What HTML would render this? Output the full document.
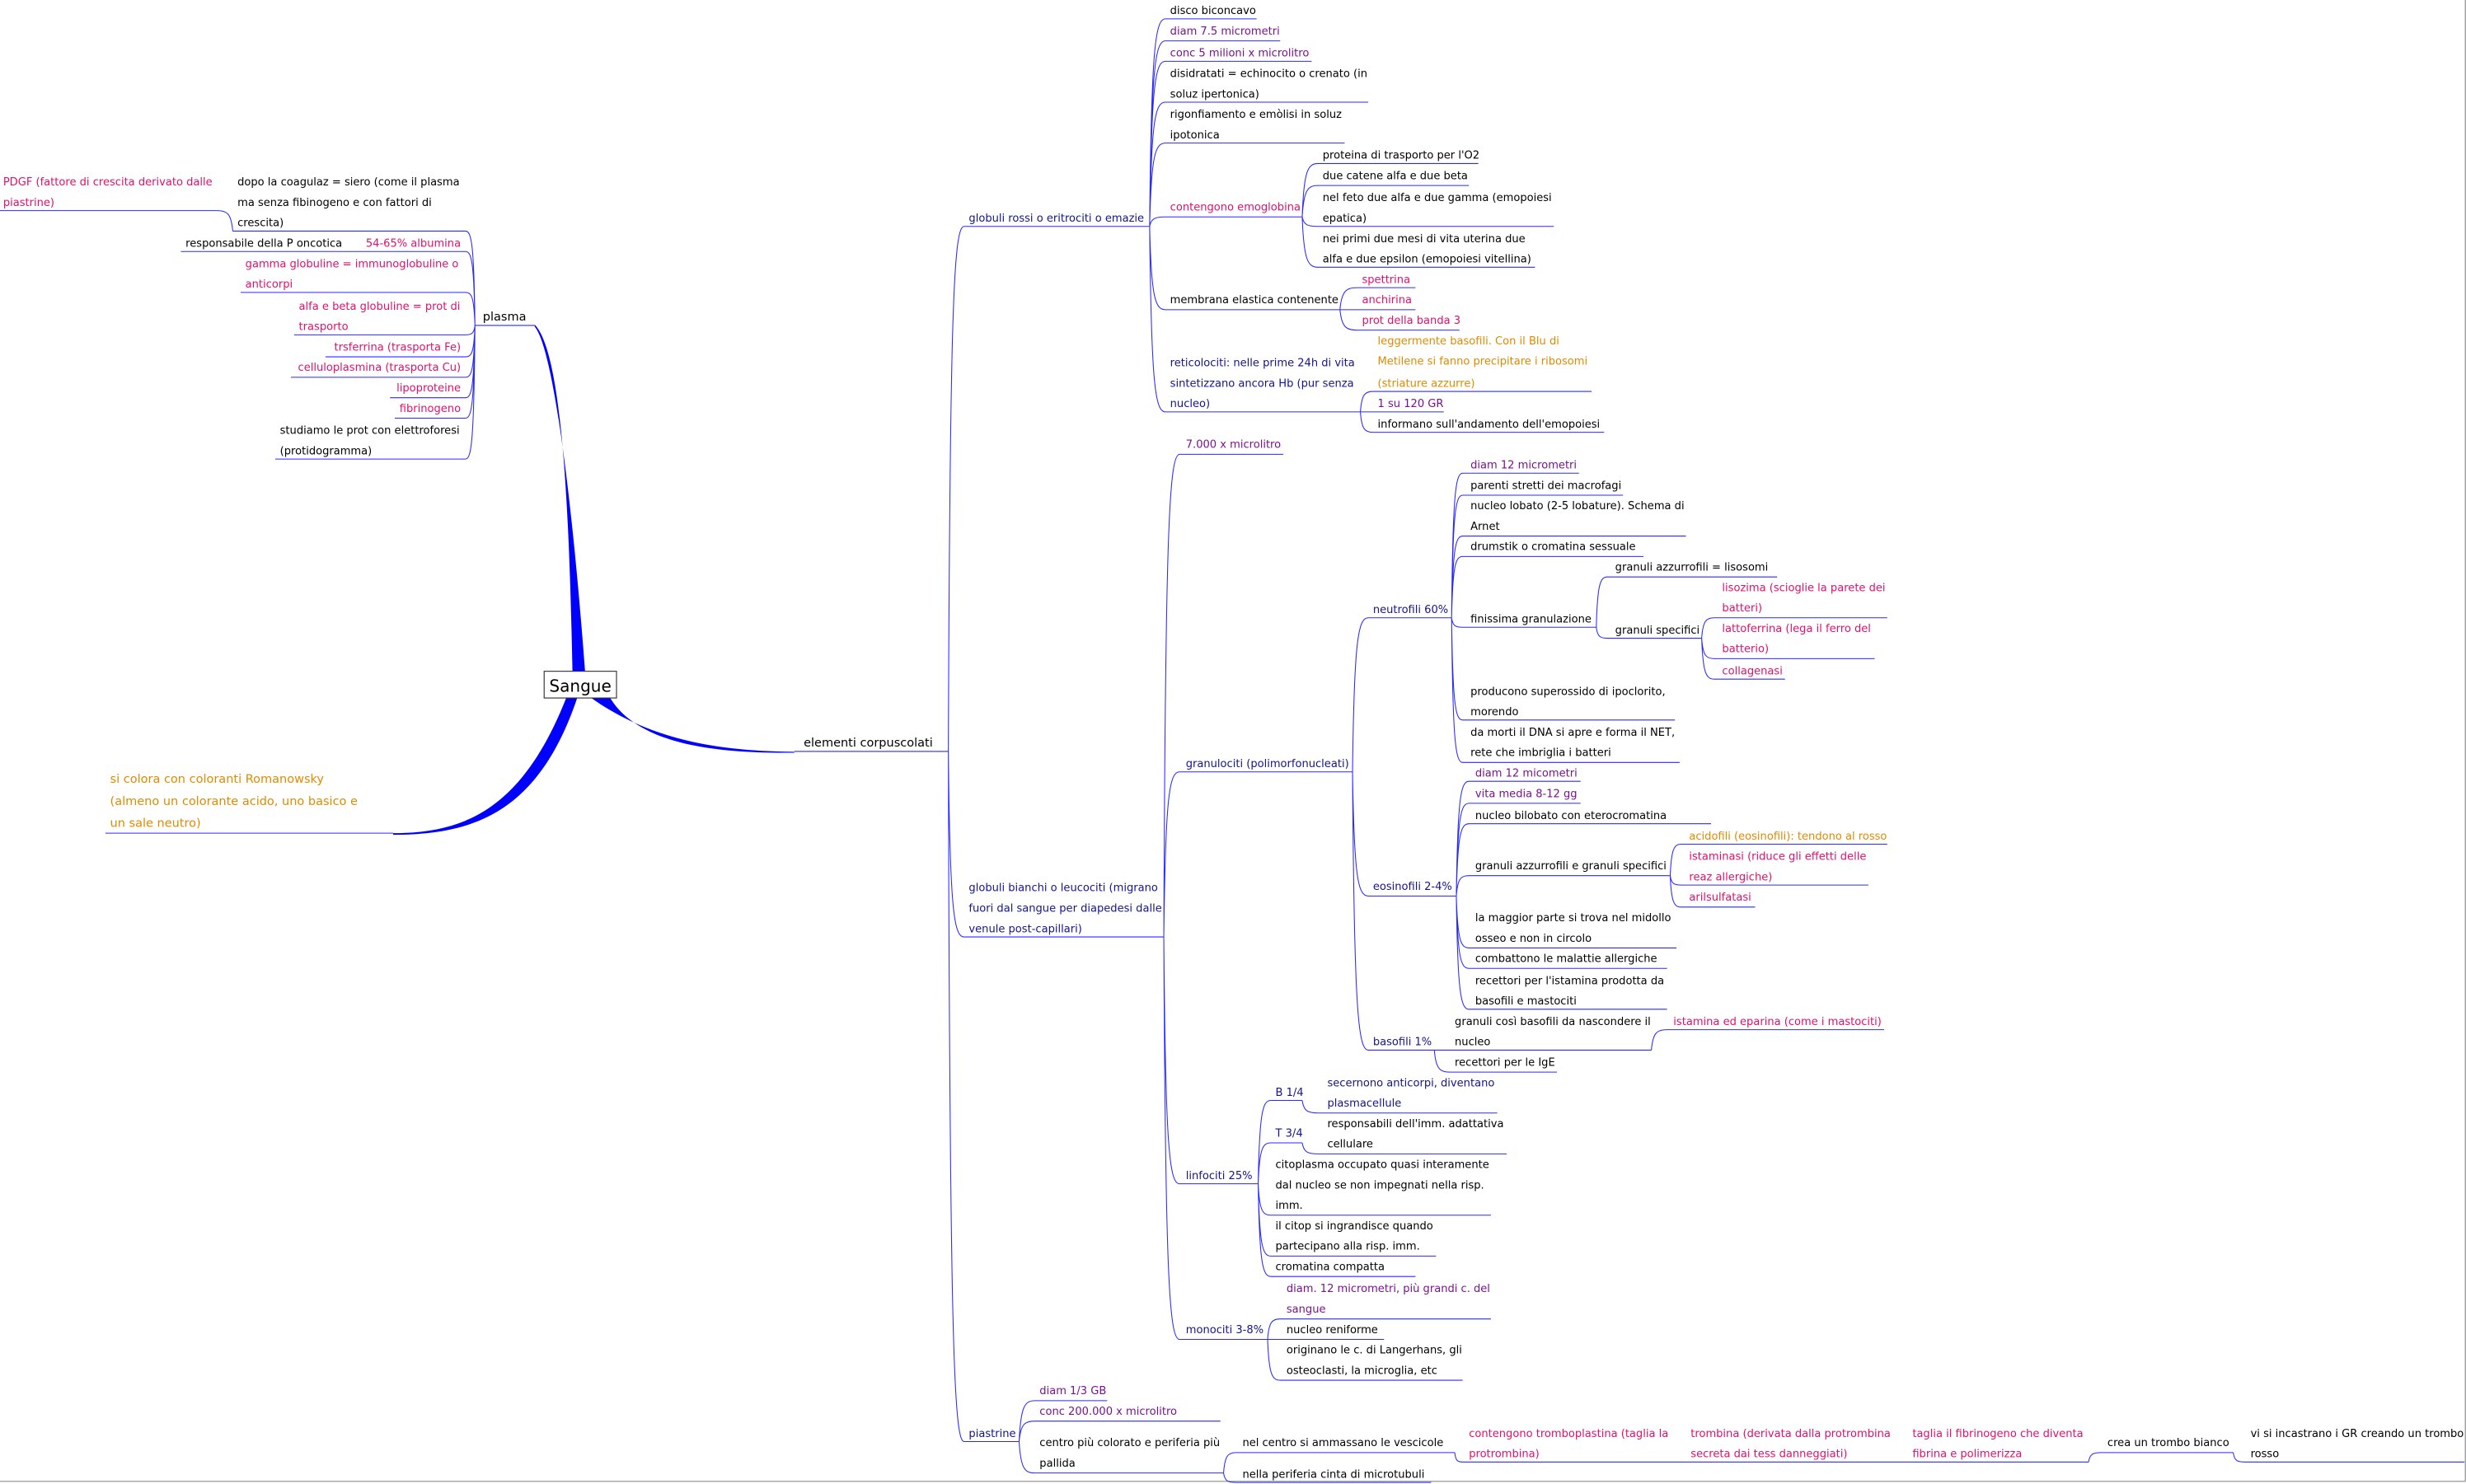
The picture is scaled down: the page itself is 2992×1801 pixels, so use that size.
<!DOCTYPE html>
<html><head><meta charset="utf-8"><style>
html,body{margin:0;padding:0;background:#fff;}
svg{display:block}
text{font-family:"DejaVu Sans","Liberation Sans",sans-serif;font-size:6.85px;fill:#000}
.nv{fill:#14148c}.pu{fill:#7a1290}.mg{fill:#e0106e}.or{fill:#e08a00}
.r{text-anchor:end}
</style></head><body>
<svg id="s" width="2992" height="1801" viewBox="0 0 1568 944" preserveAspectRatio="none" xmlns="http://www.w3.org/2000/svg">
<rect x="0" y="0" width="1568" height="944" fill="#fff"/>
<line x1="1567.6" y1="0" x2="1567.6" y2="942" stroke="#999" stroke-width="0.7"/>
<line x1="0" y1="942.3" x2="1568" y2="942.3" stroke="#999" stroke-width="0.7"/>
<g id="lines" fill="none" stroke="#2a2aff" stroke-width="0.55"></g>
<g fill="#0000ff">
<path d="M364,427 C362,330 358,225 340,206.5 L340,207.8 C352,222 364,320 372,427 Z"/>
<path d="M376,444 C410,468 450,478 505,478.2 L505,478.8 C450,479.5 405,472 388,444 Z"/>
<path d="M360,444 C332,515 295,530 250,530 L250,531 C300,531 342,518 367,444 Z"/>
</g>
<rect x="346" y="427" width="46" height="17" fill="#fff" stroke="#333" stroke-width="0.6"/>
<text x="369" y="440" style="font-size:10.5px" text-anchor="middle">Sangue</text>
<text x="511" y="475" style="font-size:7.6px">elementi corpuscolati</text>
<text x="307" y="204" style="font-size:7.6px">plasma</text>
<text class="or" x="70" y="498" style="font-size:7.6px">si colora con coloranti Romanowsky</text>
<text class="or" x="70" y="512" style="font-size:7.6px">(almeno un colorante acido, uno basico e</text>
<text class="or" x="70" y="526" style="font-size:7.6px">un sale neutro)</text>

<!-- plasma -->
<text class="mg" x="2" y="118">PDGF (fattore di crescita derivato dalle</text>
<text class="mg" x="2" y="131">piastrine)</text>
<text x="151" y="118">dopo la coagulaz = siero (come il plasma</text>
<text x="151" y="131">ma senza fibinogeno e con fattori di</text>
<text x="151" y="144">crescita)</text>
<text x="118" y="157">responsabile della P oncotica</text>
<text class="mg r" x="293" y="157">54-65% albumina</text>
<text class="mg" x="156" y="170">gamma globuline = immunoglobuline o</text>
<text class="mg" x="156" y="183">anticorpi</text>
<text class="mg" x="190" y="197">alfa e beta globuline = prot di</text>
<text class="mg" x="190" y="210">trasporto</text>
<text class="mg r" x="293" y="223">trsferrina (trasporta Fe)</text>
<text class="mg r" x="293" y="236">celluloplasmina (trasporta Cu)</text>
<text class="mg r" x="293" y="249">lipoproteine</text>
<text class="mg r" x="293" y="262">fibrinogeno</text>
<text x="178" y="276">studiamo le prot con elettroforesi</text>
<text x="178" y="289">(protidogramma)</text>

<!-- globuli rossi -->
<text class="nv" x="616" y="141">globuli rossi o eritrociti o emazie</text>
<text x="744" y="9">disco biconcavo</text>
<text class="pu" x="744" y="22">diam 7.5 micrometri</text>
<text class="pu" x="744" y="36">conc 5 milioni x microlitro</text>
<text x="744" y="49">disidratati = echinocito o crenato (in</text>
<text x="744" y="62">soluz ipertonica)</text>
<text x="744" y="75">rigonfiamento e emòlisi in soluz</text>
<text x="744" y="88">ipotonica</text>
<text class="mg" x="744" y="134">contengono emoglobina</text>
<text x="841" y="101">proteina di trasporto per l'O2</text>
<text x="841" y="114">due catene alfa e due beta</text>
<text x="841" y="128">nel feto due alfa e due gamma (emopoiesi</text>
<text x="841" y="141">epatica)</text>
<text x="841" y="154">nei primi due mesi di vita uterina due</text>
<text x="841" y="167">alfa e due epsilon (emopoiesi vitellina)</text>
<text x="744" y="193">membrana elastica contenente</text>
<text class="mg" x="866" y="180">spettrina</text>
<text class="mg" x="866" y="193">anchirina</text>
<text class="mg" x="866" y="206">prot della banda 3</text>
<text class="nv" x="744" y="233">reticolociti: nelle prime 24h di vita</text>
<text class="nv" x="744" y="246">sintetizzano ancora Hb (pur senza</text>
<text class="nv" x="744" y="259">nucleo)</text>
<text class="or" x="876" y="219">leggermente basofili. Con il Blu di</text>
<text class="or" x="876" y="232">Metilene si fanno precipitare i ribosomi</text>
<text class="or" x="876" y="246">(striature azzurre)</text>
<text class="pu" x="876" y="259">1 su 120 GR</text>
<text x="876" y="272">informano sull'andamento dell'emopoiesi</text>

<!-- globuli bianchi -->
<text class="nv" x="616" y="567">globuli bianchi o leucociti (migrano</text>
<text class="nv" x="616" y="580">fuori dal sangue per diapedesi dalle</text>
<text class="nv" x="616" y="593">venule post-capillari)</text>
<text class="pu" x="754" y="285">7.000 x microlitro</text>
<text class="nv" x="754" y="488">granulociti (polimorfonucleati)</text>
<text class="nv" x="873" y="390">neutrofili 60%</text>
<text class="pu" x="935" y="298">diam 12 micrometri</text>
<text x="935" y="311">parenti stretti dei macrofagi</text>
<text x="935" y="324">nucleo lobato (2-5 lobature). Schema di</text>
<text x="935" y="337">Arnet</text>
<text x="935" y="350">drumstik o cromatina sessuale</text>
<text x="935" y="396">finissima granulazione</text>
<text x="1027" y="363">granuli azzurrofili = lisosomi</text>
<text x="1027" y="403">granuli specifici</text>
<text class="mg" x="1095" y="376">lisozima (scioglie la parete dei</text>
<text class="mg" x="1095" y="389">batteri)</text>
<text class="mg" x="1095" y="402">lattoferrina (lega il ferro del</text>
<text class="mg" x="1095" y="415">batterio)</text>
<text class="mg" x="1095" y="429">collagenasi</text>
<text x="935" y="442">producono superossido di ipoclorito,</text>
<text x="935" y="455">morendo</text>
<text x="935" y="468">da morti il DNA si apre e forma il NET,</text>
<text x="935" y="481">rete che imbriglia i batteri</text>
<text class="nv" x="873" y="566">eosinofili 2-4%</text>
<text class="pu" x="938" y="494">diam 12 micometri</text>
<text class="pu" x="938" y="507">vita media 8-12 gg</text>
<text x="938" y="521">nucleo bilobato con eterocromatina</text>
<text x="938" y="553">granuli azzurrofili e granuli specifici</text>
<text class="or" x="1074" y="534">acidofili (eosinofili): tendono al rosso</text>
<text class="mg" x="1074" y="547">istaminasi (riduce gli effetti delle</text>
<text class="mg" x="1074" y="560">reaz allergiche)</text>
<text class="mg" x="1074" y="573">arilsulfatasi</text>
<text x="938" y="586">la maggior parte si trova nel midollo</text>
<text x="938" y="599">osseo e non in circolo</text>
<text x="938" y="612">combattono le malattie allergiche</text>
<text x="938" y="626">recettori per l'istamina prodotta da</text>
<text x="938" y="639">basofili e mastociti</text>
<text class="nv" x="873" y="665">basofili 1%</text>
<text x="925" y="652">granuli così basofili da nascondere il</text>
<text x="925" y="665">nucleo</text>
<text class="mg" x="1064" y="652">istamina ed eparina (come i mastociti)</text>
<text x="925" y="678">recettori per le IgE</text>
<text class="nv" x="754" y="750">linfociti 25%</text>
<text class="nv" x="811" y="697">B 1/4</text>
<text class="nv" x="811" y="723">T 3/4</text>
<text class="nv" x="844" y="691">secernono anticorpi, diventano</text>
<text class="nv" x="844" y="704">plasmacellule</text>
<text x="844" y="717">responsabili dell'imm. adattativa</text>
<text x="844" y="730">cellulare</text>
<text x="811" y="743">citoplasma occupato quasi interamente</text>
<text x="811" y="756">dal nucleo se non impegnati nella risp.</text>
<text x="811" y="769">imm.</text>
<text x="811" y="782">il citop si ingrandisce quando</text>
<text x="811" y="795">partecipano alla risp. imm.</text>
<text x="811" y="808">cromatina compatta</text>
<text class="nv" x="754" y="848">monociti 3-8%</text>
<text class="pu" x="818" y="822">diam. 12 micrometri, più grandi c. del</text>
<text class="pu" x="818" y="835">sangue</text>
<text x="818" y="848">nucleo reniforme</text>
<text x="818" y="861">originano le c. di Langerhans, gli</text>
<text x="818" y="874">osteoclasti, la microglia, etc</text>

<!-- piastrine -->
<text class="nv" x="616" y="914">piastrine</text>
<text class="pu" x="661" y="887">diam 1/3 GB</text>
<text class="pu" x="661" y="900">conc 200.000 x microlitro</text>
<text x="661" y="920">centro più colorato e periferia più</text>
<text x="661" y="933">pallida</text>
<text x="790" y="920">nel centro si ammassano le vescicole</text>
<text x="790" y="940">nella periferia cinta di microtubuli</text>
<text class="mg" x="934" y="914">contengono tromboplastina (taglia la</text>
<text class="mg" x="934" y="927">protrombina)</text>
<text class="mg" x="1075" y="914">trombina (derivata dalla protrombina</text>
<text class="mg" x="1075" y="927">secreta dai tess danneggiati)</text>
<text class="mg" x="1216" y="914">taglia il fibrinogeno che diventa</text>
<text class="mg" x="1216" y="927">fibrina e polimerizza</text>
<text x="1340" y="920">crea un trombo bianco</text>
<text x="1431" y="914">vi si incastrano i GR creando un trombo</text>
<text x="1431" y="927">rosso</text>
</svg>
<script>
var N={
gr:[613,731,144],n1:[741,799,12],n2:[741,814,26],n3:[741,834,39],n4:[741,870,65],n5:[741,855,91],n6:[741,828,138],n7:[741,852,197],n8:[741,865,262],
h1:[838,940,104],h2:[838,934,118],h3:[838,988,144],h4:[838,976,170],
m1:[863,900,183],m2:[863,900,197],m3:[863,928,210],
r1:[873,1012,249],r2:[873,918,262],r3:[873,1020,275],
el:[505,603,478],gb:[613,740,596],pi:[613,648,917],
w1:[750,816,289],w2:[750,860,491],w3:[750,800,753],w4:[750,806,852],
ne:[870,923,393],eo:[870,926,570],ba:[870,912,668],
ne1:[930,1004,301],ne2:[930,1032,315],ne3:[930,1072,341],ne4:[930,1045,354],ne5:[930,1015,399],ne6:[930,1065,458],ne7:[930,1068,485],
g1:[1022,1130,367],g2:[1022,1082,406],gs1:[1090,1200,393],gs2:[1090,1192,419],gs3:[1090,1135,432],
eo1:[934,1005,497],eo2:[934,1005,511],eo3:[934,1088,524],eo4:[934,1062,557],eo5:[934,1066,603],eo6:[934,1060,616],eo7:[934,1060,642],
ea1:[1069,1200,537],ea2:[1069,1188,563],ea3:[1069,1116,577],
b1:[922,1050,668],b2:[922,990,682],bb:[1060,1198,655],
l1:[808,828,700],l2:[808,828,727],l3:[808,948,773],l4:[808,913,799],l5:[808,900,812],la:[838,952,708],lb:[838,958,734],
mo1:[814,948,839],mo2:[814,880,852],mo3:[814,930,878],
p1:[658,704,891],p2:[658,776,904],p3:[658,778,937],pc:[786,925,924],pp:[786,910,943],
t1:[930,1065,930],t2:[1070,1205,930],t3:[1212,1328,930],t4:[1336,1420,924],t5:[1427,1567,930],
pl:[302,340,207],pl1:[148,296,147],pl2:[230,296,160],pl3:[153,296,186],pl4:[187,296,213],pl5:[207,296,227],pl6:[185,296,240],pl7:[248,296,253],pl8:[251,296,266],pl9:[175,296,292],
pd:[0,138,134],po:[115,222,160],rom:[67,250,530]};
var R=[["el","gr"],["el","gb"],["el","pi"],["gr","n1"],["gr","n2"],["gr","n3"],["gr","n4"],["gr","n5"],["gr","n6"],["gr","n7"],["gr","n8"],
["n6","h1"],["n6","h2"],["n6","h3"],["n6","h4"],["n7","m1"],["n7","m2"],["n7","m3"],["n8","r1"],["n8","r2"],["n8","r3"],
["gb","w1"],["gb","w2"],["gb","w3"],["gb","w4"],["w2","ne"],["w2","eo"],["w2","ba"],
["ne","ne1"],["ne","ne2"],["ne","ne3"],["ne","ne4"],["ne","ne5"],["ne","ne6"],["ne","ne7"],["ne5","g1"],["ne5","g2"],["g2","gs1"],["g2","gs2"],["g2","gs3"],
["eo","eo1"],["eo","eo2"],["eo","eo3"],["eo","eo4"],["eo","eo5"],["eo","eo6"],["eo","eo7"],["eo4","ea1"],["eo4","ea2"],["eo4","ea3"],
["ba","b1"],["ba","b2"],["b1","bb"],["w3","l1"],["w3","l2"],["w3","l3"],["w3","l4"],["w3","l5"],["l1","la"],["l2","lb"],
["w4","mo1"],["w4","mo2"],["w4","mo3"],["pi","p1"],["pi","p2"],["pi","p3"],["p3","pc"],["p3","pp"],["pc","t1"],["t1","t2"],["t2","t3"],["t3","t4"],["t4","t5"]];
var L=[["pl","pl1"],["pl","pl2"],["pl","pl3"],["pl","pl4"],["pl","pl5"],["pl","pl6"],["pl","pl7"],["pl","pl8"],["pl","pl9"],["pl1","pd"],["pl2","po"]];
var g=document.getElementById("lines"),d="";
for(var k in N){var n=N[k];d+="M"+n[0]+","+n[2]+"H"+n[1];}
function c(x1,y1,x2,y2){var dx=x2-x1,dy=y2-y1;return "M"+x1+","+y1+"C"+(x1+dx*0.1)+","+(y1+dy*0.85)+" "+(x1+dx*0.35)+","+y2+" "+x2+","+y2;}
R.forEach(function(e){var p=N[e[0]],q=N[e[1]];d+=c(p[1],p[2],q[0],q[2]);});
L.forEach(function(e){var p=N[e[0]],q=N[e[1]];d+=c(p[0],p[2],q[1],q[2]);});
var p=document.createElementNS("http://www.w3.org/2000/svg","path");p.setAttribute("d",d);g.appendChild(p);
</script>
</body></html>
